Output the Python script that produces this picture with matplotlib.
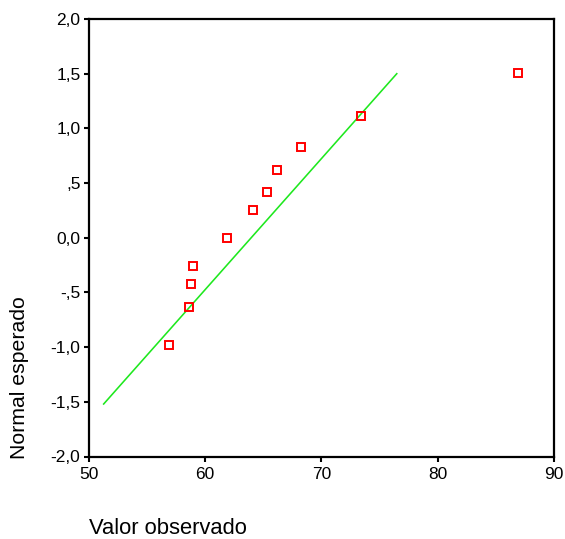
import matplotlib
matplotlib.use("Agg")
import matplotlib.pyplot as plt
import numpy as np

plt.rcParams['font.family'] = ['Liberation Sans', 'DejaVu Sans']

observed = [56.9, 58.6, 58.8, 59.0, 61.9, 64.1, 65.3, 66.2, 68.3, 73.4, 86.9]
expected = [-0.98, -0.63, -0.425, -0.255, -0.005, 0.25, 0.42, 0.617, 0.833, 1.116, 1.504]

# Normal reference line parameters
line_mean = 63.98
line_sd = 8.34
line_z = [-1.52, 1.5]

x_ticks = [50, 60, 70, 80, 90]
x_tick_labels = ["50", "60", "70", "80", "90"]
y_ticks = [2.0, 1.5, 1.0, 0.5, 0.0, -0.5, -1.0, -1.5, -2.0]
y_tick_labels = ["2,0", "1,5", "1,0", ",5", "0,0", "-,5", "-1,0", "-1,5", "-2,0"]

W, H = 565, 539
fig = plt.figure(figsize=(W / 100, H / 100), dpi=100)
ax = fig.add_axes([88.5 / W, (H - 456.5) / H, (554 - 88.5) / W, (456.5 - 19) / H])

lz = np.array(line_z)
ax.plot(line_mean + line_sd * lz, lz, color="#1ee81e", lw=1.15, zorder=2)
ax.plot(observed, expected, linestyle="none", marker="s", markersize=5.8,
        markerfacecolor="none", markeredgecolor="#ff0000", markeredgewidth=1.4, zorder=3)

ax.set_xlim(50, 90)
ax.set_ylim(-2, 2)
ax.set_xticks(x_ticks)
ax.set_xticklabels(x_tick_labels)
ax.set_yticks(y_ticks)
ax.set_yticklabels(y_tick_labels)
for s in ax.spines.values():
    s.set_linewidth(1.6)
    s.set_color("black")
ax.tick_params(direction="out", length=3.8, width=1.5, labelsize=12.5, colors="black")
ax.tick_params(axis="x", pad=3.5)
ax.tick_params(axis="y", pad=2)

fig.text(89 / W, 11 / H, "Valor observado", ha="left", va="center", fontsize=15.8)
fig.text(20 / W, (H - 459) / H, "Normal esperado", ha="center", va="bottom",
         rotation=90, fontsize=15.3)

fig.savefig("out.png", dpi=100)
